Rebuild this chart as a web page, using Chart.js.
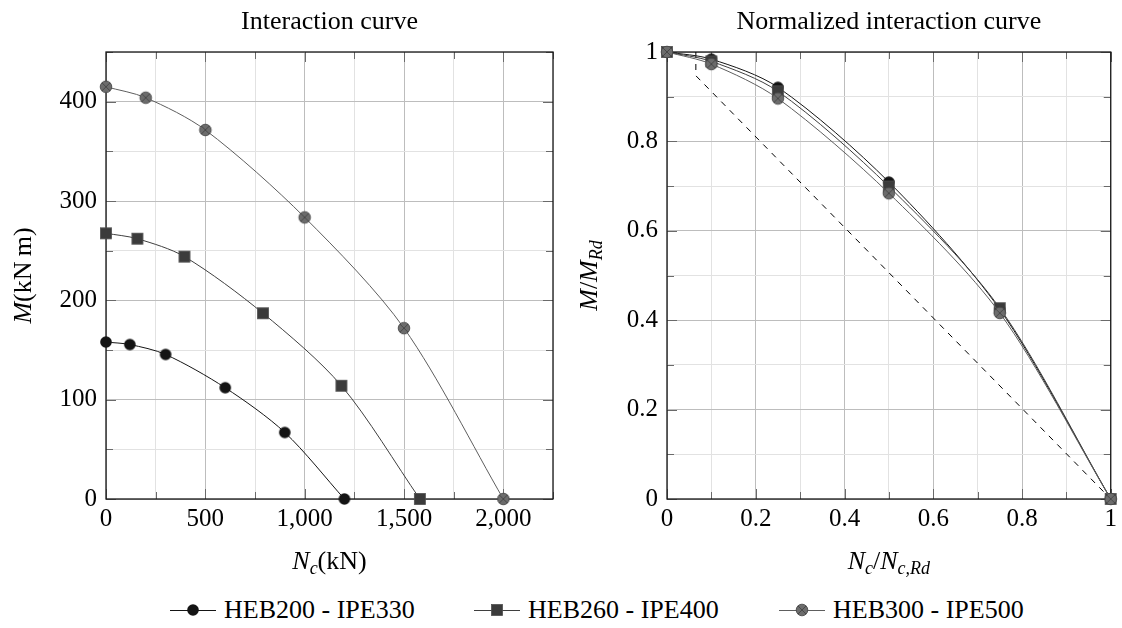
<!DOCTYPE html>
<html><head><meta charset="utf-8">
<script src="https://cdn.jsdelivr.net/npm/chart.js@4.4.1/dist/chart.umd.min.js"></script>
<style>
html,body{margin:0;padding:0;background:#fff;width:1122px;height:628px;overflow:hidden;position:relative}
#c1{position:absolute;left:0;top:0}
#c2{position:absolute;left:561px;top:0}
.leg{position:absolute;top:597px;display:flex;align-items:flex-start;font-family:'Liberation Serif',serif;font-size:26px;line-height:26px;color:#000;white-space:nowrap}
.leg canvas{margin-right:8px;display:block}
</style></head><body>
<canvas id="c1" width="561" height="580"></canvas>
<canvas id="c2" width="561" height="580"></canvas>
<div id="legend"></div>
<script>
// ---------- DATA ----------
const seriesNames = ['HEB200 - IPE330', 'HEB260 - IPE400', 'HEB300 - IPE500'];
// Left: interaction curve (Nc in kN, M in kN m)
const n1 = [0, 120, 300, 600, 900, 1200];
const m1 = [158, 155.5, 145.5, 112, 67, 0];
const n2 = [0, 158, 395, 790, 1185, 1580];
const m2 = [267.5, 262, 244, 187, 114, 0];
const n3 = [0, 200, 500, 1000, 1500, 2000];
const m3 = [415, 404, 371.5, 283.5, 172, 0];
// Right: normalized interaction curve
const ratioN = [0, 0.1, 0.25, 0.5, 0.75, 1];
const r1 = [1, 0.984, 0.921, 0.709, 0.424, 0];
const r2 = [1, 0.979, 0.912, 0.699, 0.427, 0];
const r3 = [1, 0.973, 0.896, 0.684, 0.416, 0];
const dashN = [0.065, 0.065, 1];
const dashM = [1, 0.947, 0];
// Tick labels
const leftXTickValues = [0, 500, 1000, 1500, 2000];
const leftXTickLabels = ['0', '500', '1,000', '1,500', '2,000'];
const leftYTickValues = [0, 100, 200, 300, 400];
const leftYTickLabels = ['0', '100', '200', '300', '400'];
const rightXTickValues = [0, 0.2, 0.4, 0.6, 0.8, 1];
const rightXTickLabels = ['0', '0.2', '0.4', '0.6', '0.8', '1'];
const rightYTickValues = [0, 0.2, 0.4, 0.6, 0.8, 1];
const rightYTickLabels = ['0', '0.2', '0.4', '0.6', '0.8', '1'];

// ---------- STYLE ----------
const FONT = '"Liberation Serif", "Times New Roman", serif';
const lineColors = ['#151515', '#3f3f3f', '#5e5e5e'];

function markerCanvas(kind) {
  const c = document.createElement('canvas');
  c.width = 16; c.height = 16;
  const g = c.getContext('2d');
  if (kind === 0) {
    g.beginPath(); g.arc(8, 8, 5.8, 0, Math.PI * 2); g.fillStyle = '#141414'; g.fill();
  } else if (kind === 1) {
    g.fillStyle = '#3b3b3b'; g.fillRect(2.5, 2.5, 11, 11);
    g.strokeStyle = '#505050'; g.lineWidth = 0.8; g.strokeRect(2.5, 2.5, 11, 11);
  } else {
    g.beginPath(); g.arc(8, 8, 5.8, 0, Math.PI * 2); g.fillStyle = '#6c6c6c'; g.fill();
    g.strokeStyle = '#4a4a4a'; g.lineWidth = 0.9; g.stroke();
    const d = 4.1;
    g.beginPath(); g.moveTo(8 - d, 8 - d); g.lineTo(8 + d, 8 + d); g.moveTo(8 + d, 8 - d); g.lineTo(8 - d, 8 + d);
    g.strokeStyle = '#444'; g.lineWidth = 0.9; g.stroke();
  }
  return c;
}
const markers = [markerCanvas(0), markerCanvas(1), markerCanvas(2)];

function labelFor(values, labels, v) {
  for (let i = 0; i < values.length; i++) if (Math.abs(values[i] - v) < 1e-6) return labels[i];
  return '';
}

function drawRich(ctx, segs, x, y) {
  const big = 26, small = 18;
  let total = 0;
  const widths = segs.map(s => {
    ctx.font = (s[1] ? 'italic ' : '') + (s[2] ? small : big) + 'px ' + FONT;
    const w = ctx.measureText(s[0]).width; total += w; return w;
  });
  let cx = x - total / 2;
  ctx.textAlign = 'left'; ctx.textBaseline = 'alphabetic'; ctx.fillStyle = '#000';
  segs.forEach((s, i) => {
    ctx.font = (s[1] ? 'italic ' : '') + (s[2] ? small : big) + 'px ' + FONT;
    ctx.fillText(s[0], cx, y + (s[2] ? 5 : 0));
    cx += widths[i];
  });
}

function makeDeco(title, xTitle, yTitle, yTitleX, xVals, yVals) {
  return {
    id: 'deco',
    beforeDatasetsDraw(chart) {
      const { ctx, chartArea: a, scales } = chart;
      ctx.save();
      ctx.strokeStyle = '#6a6a6a'; ctx.lineWidth = 1;
      scales.x.ticks.forEach(t => {
        const px = Math.round(scales.x.getPixelForValue(t.value)) + 0.5;
        const L = labelFor(xVals, xVals, t.value) !== '' ? 10 : 7;
        ctx.beginPath(); ctx.moveTo(px, a.top); ctx.lineTo(px, a.top + L);
        ctx.moveTo(px, a.bottom); ctx.lineTo(px, a.bottom - L); ctx.stroke();
      });
      scales.y.ticks.forEach(t => {
        const py = Math.round(scales.y.getPixelForValue(t.value)) + 0.5;
        const L = labelFor(yVals, yVals, t.value) !== '' ? 10 : 7;
        ctx.beginPath(); ctx.moveTo(a.left, py); ctx.lineTo(a.left + L, py);
        ctx.moveTo(a.right, py); ctx.lineTo(a.right - L, py); ctx.stroke();
      });
      ctx.strokeStyle = '#161616'; ctx.lineWidth = 1.3;
      ctx.strokeRect(a.left, a.top, a.right - a.left, a.bottom - a.top);
      ctx.restore();
    },
    afterDraw(chart) {
      const { ctx, chartArea: a } = chart;
      const cx = (a.left + a.right) / 2, cy = (a.top + a.bottom) / 2;
      ctx.save();
      drawRich(ctx, [[title, false, false]], cx, 29);
      drawRich(ctx, xTitle, cx, 569);
      ctx.translate(yTitleX, cy); ctx.rotate(-Math.PI / 2);
      drawRich(ctx, yTitle, 0, 0);
      ctx.restore();
    }
  };
}

function gridPositions(max, step) {
  const out = [];
  for (let i = 0; i * step <= max + 1e-9; i++) out.push(Math.round(i * step * 1000) / 1000);
  return out;
}

function scaleCfg(min, max, step, vals, labels, isX) {
  const cfg = {
    type: 'linear', min: min, max: max,
    afterBuildTicks: s => { s.ticks = gridPositions(max, step).map(v => ({ value: v })); },
    ticks: {
      autoSkip: false, maxRotation: 0, color: '#000',
      font: { family: FONT, size: 25 },
      padding: isX ? 5 : 9,
      callback: v => labelFor(vals, labels, v)
    },
    grid: {
      drawTicks: false, lineWidth: 1,
      color: c => labelFor(vals, labels, c.tick.value) !== '' ? '#bdbdbd' : '#e2e2e2'
    },
    border: { display: false }
  };
  if (isX) cfg.afterFit = s => { s.height = 81; };
  else cfg.afterFit = s => { s.width = 106; };
  return cfg;
}

function ds(xs, ys, i) {
  return {
    data: xs.map((x, k) => ({ x: x, y: ys[k] })),
    borderColor: lineColors[i], borderWidth: 1, pointStyle: markers[i], pointRadius: 6,
    tension: 0.3, clip: false, order: 2 - i, fill: false
  };
}

const commonOpts = (xs, ys, deco) => ({
  responsive: false, animation: false, devicePixelRatio: 1,
  layout: { padding: { top: 52, right: 8, left: 0, bottom: 0 } },
  plugins: { legend: { display: false }, tooltip: { enabled: false }, title: { display: false } },
  scales: { x: xs, y: ys }
});

const decoLeft = makeDeco('Interaction curve',
  [['N', true, false], ['c', true, true], ['(kN)', false, false]],
  [['M', true, false], ['(kN\u2009m)', false, false]], 31, leftXTickValues, leftYTickValues);
new Chart(document.getElementById('c1'), {
  type: 'line',
  data: { datasets: [ds(n1, m1, 0), ds(n2, m2, 1), ds(n3, m3, 2)] },
  options: commonOpts(
    scaleCfg(0, 2250, 250, leftXTickValues, leftXTickLabels, true),
    scaleCfg(0, 450, 50, leftYTickValues, leftYTickLabels, false)),
  plugins: [decoLeft]
});

const decoRight = makeDeco('Normalized interaction curve',
  [['N', true, false], ['c', true, true], ['/', false, false], ['N', true, false], ['c,Rd', true, true]],
  [['M', true, false], ['/', false, false], ['M', true, false], ['Rd', true, true]], 36, rightXTickValues, rightYTickValues);
new Chart(document.getElementById('c2'), {
  type: 'line',
  data: {
    datasets: [
      ds(ratioN, r1, 0), ds(ratioN, r2, 1), ds(ratioN, r3, 2),
      { data: dashN.map((x, k) => ({ x: x, y: dashM[k] })), borderColor: '#000', borderWidth: 1,
        borderDash: [6, 6], pointRadius: 0, tension: 0, clip: false, order: 5, fill: false }
    ]
  },
  options: commonOpts(
    scaleCfg(0, 1, 0.1, rightXTickValues, rightXTickLabels, true),
    scaleCfg(0, 1, 0.1, rightYTickValues, rightYTickLabels, false)),
  plugins: [decoRight]
});

// ---------- LEGEND ----------
const legendLefts = [170, 474, 779];
const legend = document.getElementById('legend');
seriesNames.forEach((name, i) => {
  const item = document.createElement('div');
  item.className = 'leg'; item.style.left = legendLefts[i] + 'px';
  const ic = document.createElement('canvas'); ic.width = 46; ic.height = 26;
  const g = ic.getContext('2d');
  g.strokeStyle = lineColors[i]; g.lineWidth = 1;
  g.beginPath(); g.moveTo(0, 13.5); g.lineTo(46, 13.5); g.stroke();
  g.drawImage(markers[i], 23 - 8, 13 - 8);
  const sp = document.createElement('span'); sp.textContent = name;
  item.appendChild(ic); item.appendChild(sp);
  legend.appendChild(item);
});
</script>
</body></html>
